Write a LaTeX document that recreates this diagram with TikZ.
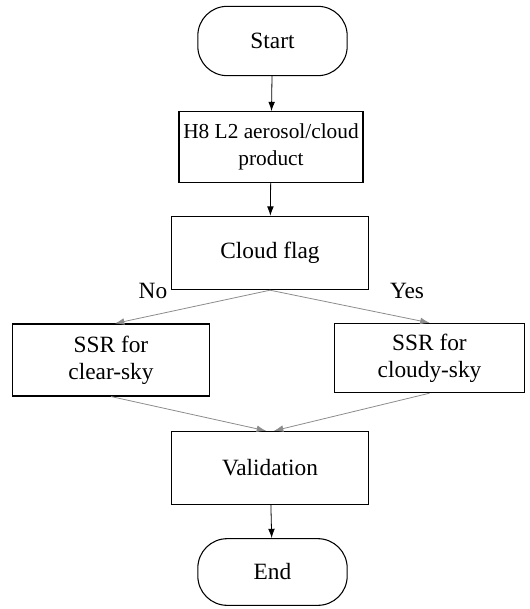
\documentclass[tikz,border=0pt]{standalone}
\usepackage{fontspec}
\setmainfont{Liberation Serif}
\usetikzlibrary{arrows.meta,calc}

\begin{document}
\begin{tikzpicture}[
        x=0.75pt, y=-0.75pt,
        every node/.style={font=\fontsize{17.5}{20}\selectfont, align=center, inner sep=0pt},
        boxn/.style={draw, line width=0.8pt, minimum width=148pt, minimum height=55pt},
        termn/.style={draw, line width=0.8pt, rounded corners=22pt, minimum width=112pt, minimum height=52pt},
        plain/.style={draw=none},
        flow/.style={draw, -{Latex[length=7pt,width=5pt]}, line width=0.6pt},
        side/.style={flow, draw=black!45},
    ]
    \useasboundingbox (0,0) rectangle (529,609);
    \node[termn](start) at (272.5,41){Start};
    \node[boxn, minimum width=138pt, minimum height=53pt, font=\fontsize{16}{20}\selectfont](prod) at (271,147){H8 L2 aerosol/cloud\\product};
    \node[boxn](flag) at (270,253){Cloud flag};
    \node[boxn, minimum height=54pt](clear) at (111,360){SSR for\\clear-sky};
    \node[boxn, minimum width=142pt, minimum height=52pt](cloudy) at (429.5,358){SSR for\\cloudy-sky};
    \node[boxn](valid) at (270,468){Validation};
    \node[termn, minimum height=50pt](end) at (272.5,572){End};
    \node[plain](no) at (153,291){No};
    \node[plain](yes) at (407,291){Yes};

    \draw[flow] (start) -- (prod);
    \draw[flow] (prod) -- (flag);
    \draw[side] (flag.south) -- ($(clear.north)+(4,0)$);
    \draw[side] (flag.south) -- (cloudy.north);
    \draw[side] (clear.south) -- ($(valid.north)+(-4,0)$);
    \draw[side] (cloudy.south) -- ($(valid.north)+(4,0)$);
    \draw[flow] (valid) -- (end);
\end{tikzpicture}
\end{document}
